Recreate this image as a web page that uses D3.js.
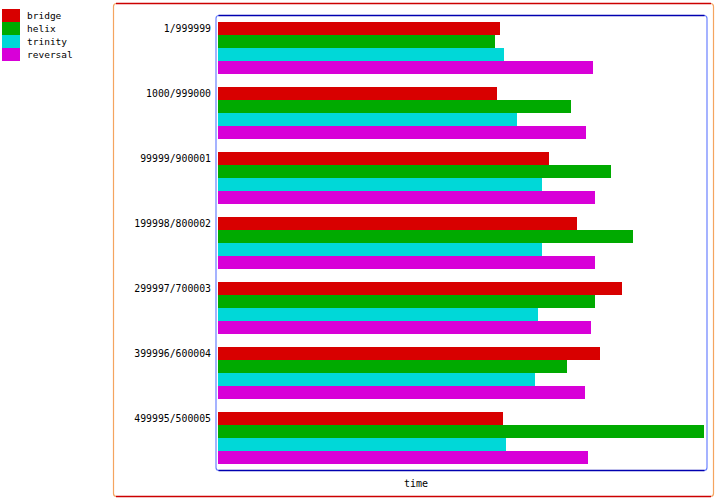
<!DOCTYPE html>
<html>
<head>
<meta charset="utf-8">
<script src="https://cdn.jsdelivr.net/npm/d3@7"></script>
<style>
  body { margin: 0; background: #fff; }
  svg { display: block; }
  text { font-family: "DejaVu Sans Mono", monospace; font-size: 10px; fill: #000; }
</style>
</head>
<body>
<svg id="chart" width="715" height="500"></svg>
<script>
const categories = ["1/999999", "1000/999000", "99999/900001", "199998/800002", "299997/700003", "399996/600004", "499995/500005"];
const seriesNames = ["bridge", "helix", "trinity", "reversal"];
const seriesColors = ["#d80000", "#00aa00", "#00d8d8", "#d800d8"];
const bridge   = [282, 279, 331, 359, 404, 382, 285];
const helix    = [277, 353, 393, 415, 377, 349, 486];
const trinity  = [286, 299, 324, 324, 320, 317, 288];
const reversal = [375, 368, 377, 377, 373, 367, 370];
const xLabel = "time";

const seriesValues = [bridge, helix, trinity, reversal];
const svg = d3.select("#chart");

// frames
const outer = {x: 113, y: 3, w: 600, h: 493};
const inner = {x: 215.5, y: 15, w: 491, h: 455};

function frame(f, sideColor, tbColor) {
  svg.append("rect").attr("x", f.x + 0.5).attr("y", f.y + 0.5).attr("width", f.w).attr("height", f.h)
    .attr("rx", 3).attr("fill", "none").attr("stroke", sideColor).attr("stroke-width", 1.2);
  svg.append("line").attr("x1", f.x + 3).attr("x2", f.x + f.w - 2).attr("y1", f.y + 0.5).attr("y2", f.y + 0.5)
    .attr("stroke", tbColor).attr("stroke-width", 1.5);
  svg.append("line").attr("x1", f.x + 3).attr("x2", f.x + f.w - 2).attr("y1", f.y + f.h + 0.5).attr("y2", f.y + f.h + 0.5)
    .attr("stroke", tbColor).attr("stroke-width", 1.5);
}
frame(outer, "#f4a460", "#cc0000");
frame(inner, "#6a80ff", "#0000b0");

const plotLeft = 218;
const x = d3.scaleLinear().domain([0, d3.max(seriesValues.flat())]).range([plotLeft, 704]);
const y0 = d3.scaleBand().domain(categories).range([15.5, 470.5]).paddingInner(0.2).paddingOuter(0.1);
const y1 = d3.scaleBand().domain(seriesNames).range([0, y0.bandwidth()]);

const groups = svg.append("g").selectAll("g").data(categories).join("g")
  .attr("transform", d => `translate(0,${y0(d)})`);

groups.selectAll("rect").data((c, ci) => seriesNames.map((s, si) => ({s, si, v: seriesValues[si][ci]})))
  .join("rect")
  .attr("x", x(0))
  .attr("y", d => y1(d.s))
  .attr("width", d => x(d.v) - x(0))
  .attr("height", y1.bandwidth())
  .attr("fill", d => seriesColors[d.si]);

// category labels
svg.append("g").selectAll("text").data(categories).join("text")
  .attr("x", 211)
  .attr("y", d => y0(d) + y1.bandwidth() / 2)
  .attr("dy", "0.35em")
  .attr("text-anchor", "end")
  .style("font-size", "9.8px")
  .text(d => d);

// x label
svg.append("text").attr("x", 416).attr("y", 487).attr("text-anchor", "middle").text(xLabel);

// legend
const leg = svg.append("g").selectAll("g").data(seriesNames).join("g")
  .attr("transform", (d, i) => `translate(2,${9 + i * 13})`);
leg.append("rect").attr("width", 18).attr("height", 13).attr("fill", (d, i) => seriesColors[i]);
leg.append("text").attr("x", 25).attr("y", 6.5).attr("dy", "0.35em").style("font-size", "9.5px").text(d => d);
</script>
</body>
</html>
